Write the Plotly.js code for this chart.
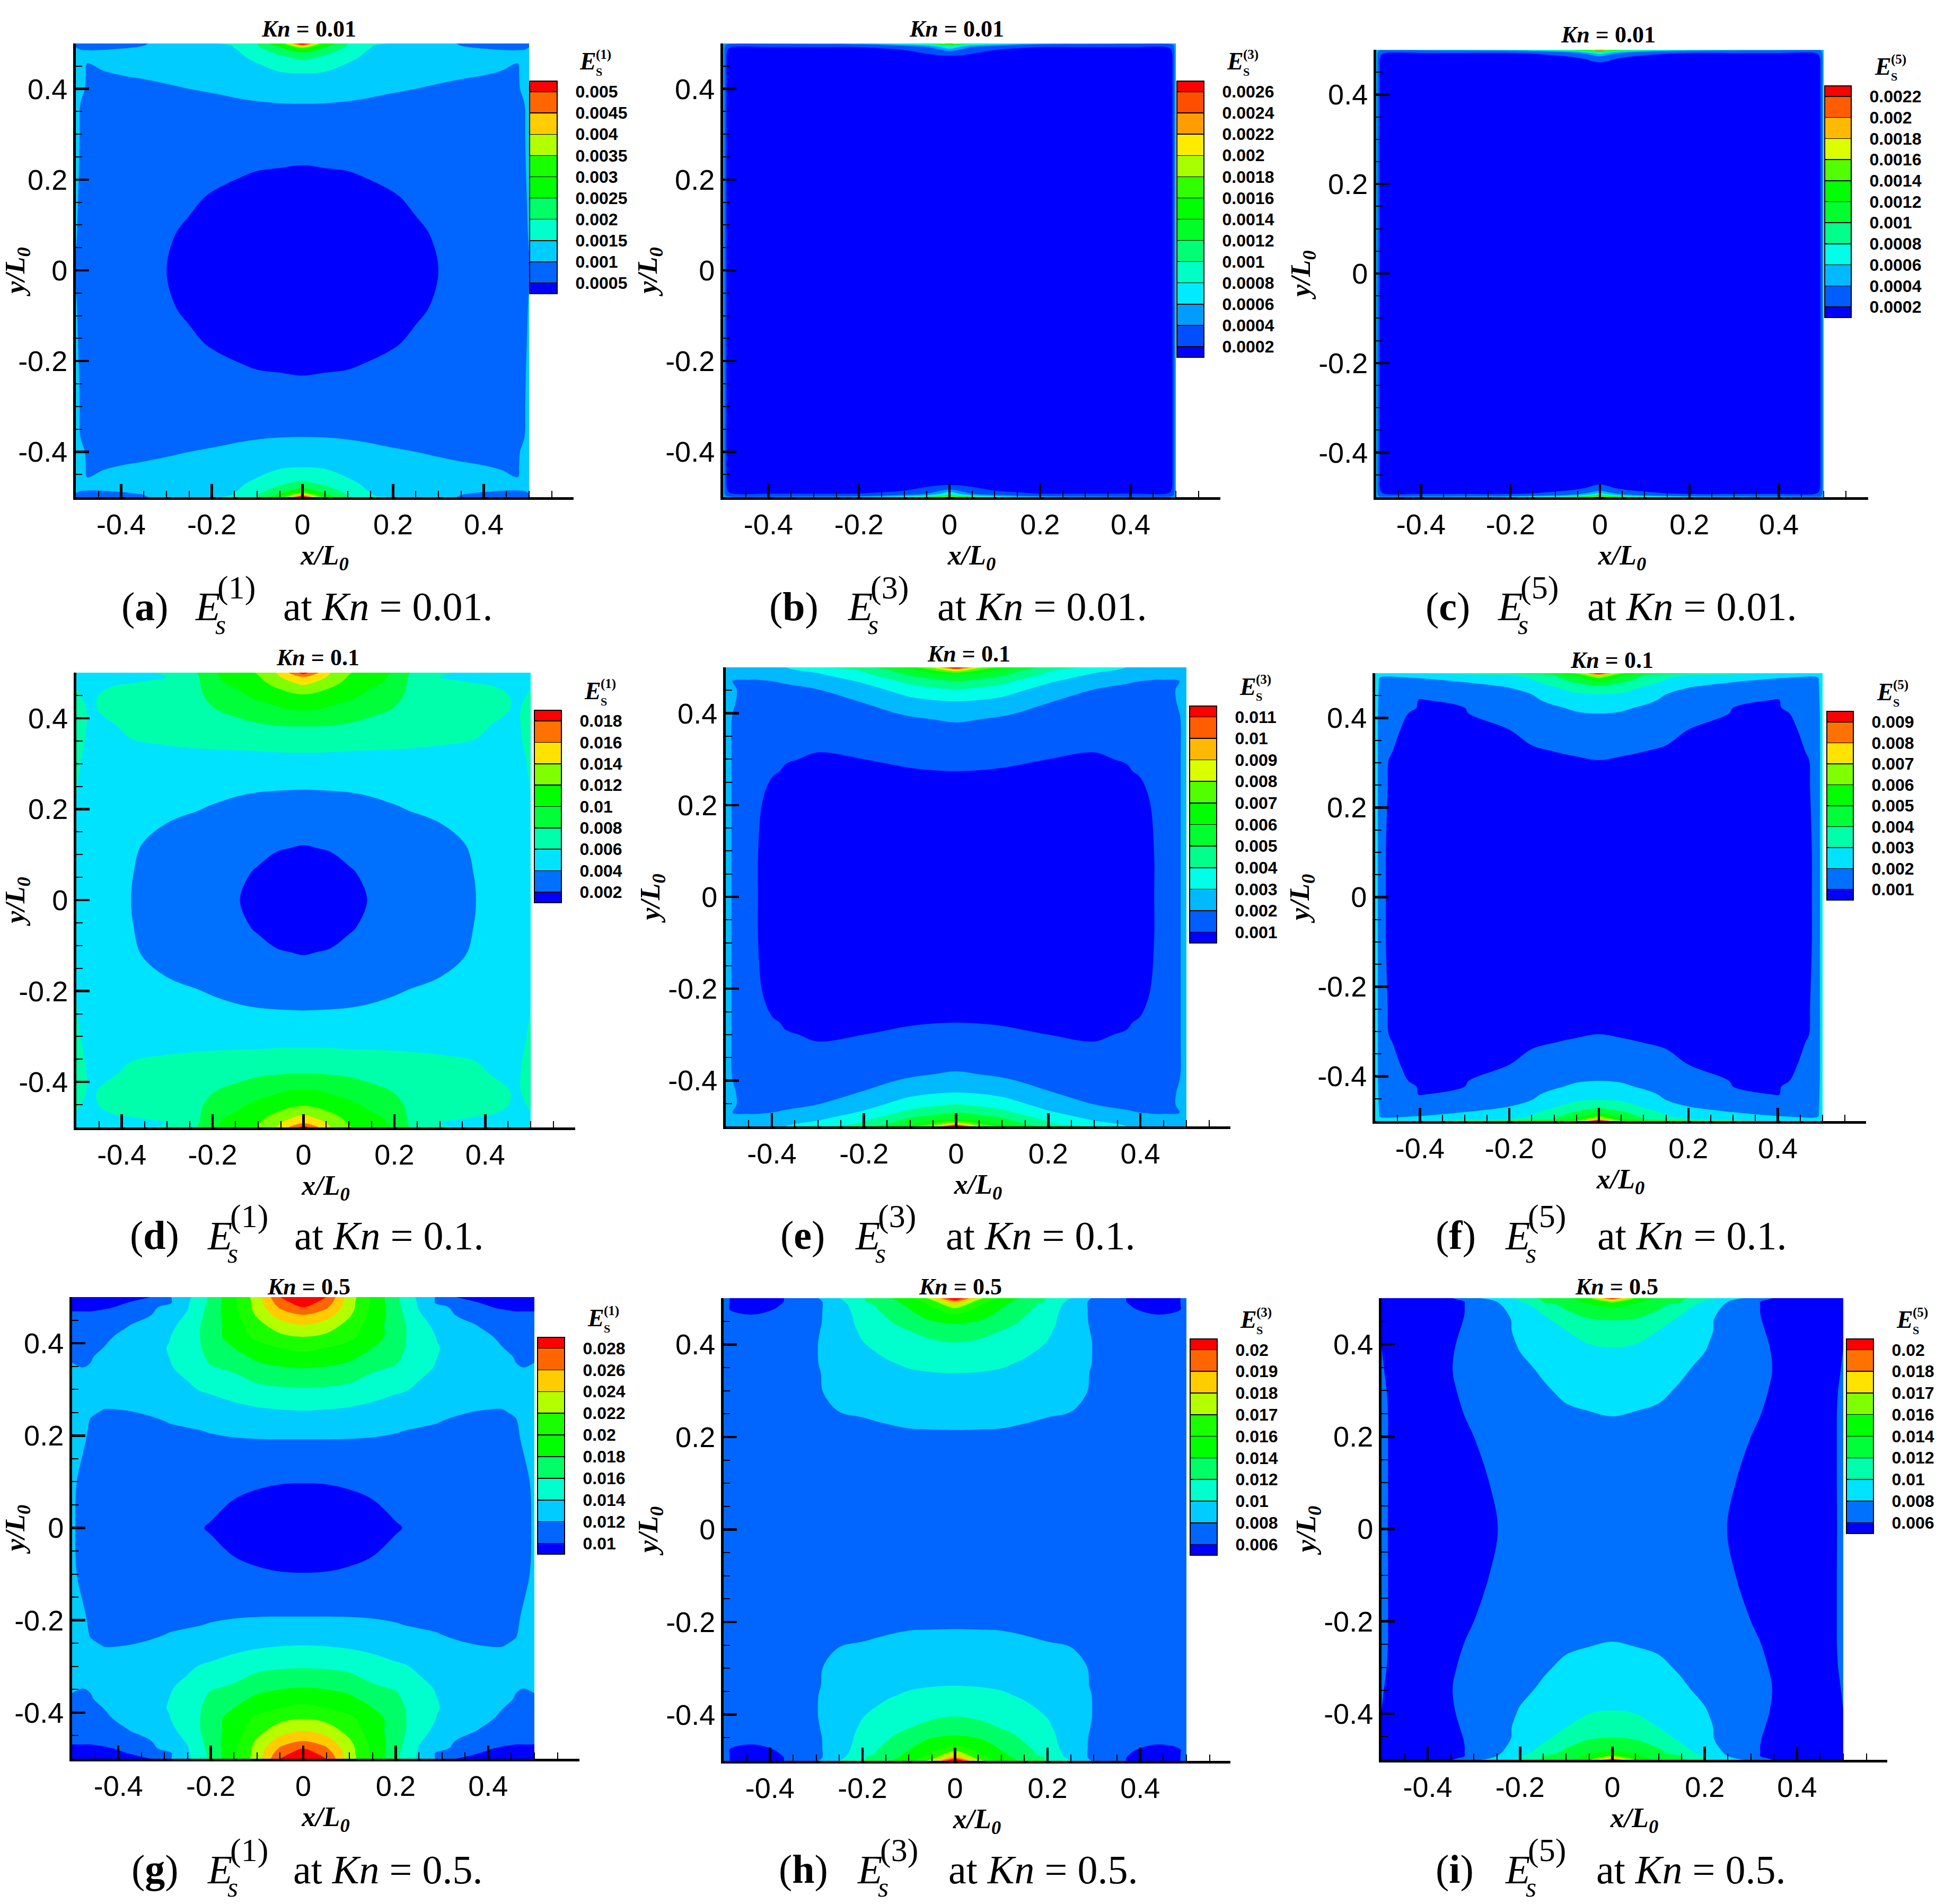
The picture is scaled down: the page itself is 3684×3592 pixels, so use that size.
<!DOCTYPE html>
<html><head><meta charset="utf-8">
<script src="https://cdn.plot.ly/plotly-3.0.1.min.js"></script>
<style>html,body{margin:0;padding:0;background:#fff}</style></head>
<body><div id="chart" style="width:3684px;height:3592px"></div>
<script>
// Quadrant readings (x>=0, y>=0): the fields are symmetric about both axes in the picture.
// Level labels as printed on each legend (ascending).
const labelsA=['0.0005','0.001','0.0015','0.002','0.0025','0.003','0.0035','0.004','0.0045','0.005'];
const labelsB=['0.0002','0.0004','0.0006','0.0008','0.001','0.0012','0.0014','0.0016','0.0018','0.002','0.0022','0.0024','0.0026'];
const labelsC=['0.0002','0.0004','0.0006','0.0008','0.001','0.0012','0.0014','0.0016','0.0018','0.002','0.0022'];
const labelsD=['0.002','0.004','0.006','0.008','0.01','0.012','0.014','0.016','0.018'];
const labelsE=['0.001','0.002','0.003','0.004','0.005','0.006','0.007','0.008','0.009','0.01','0.011'];
const labelsF=['0.001','0.002','0.003','0.004','0.005','0.006','0.007','0.008','0.009'];
const labelsG=['0.01','0.012','0.014','0.016','0.018','0.02','0.022','0.024','0.026','0.028'];
const labelsH=['0.006','0.008','0.01','0.012','0.014','0.016','0.017','0.018','0.019','0.02'];
const labelsI=['0.006','0.008','0.01','0.012','0.014','0.016','0.017','0.018','0.02'];

// Panel (a) E_s^(1), Kn=0.01, z in 1e-5
const xA=[0,.05,.1,.14,.19,.25,.3,.35,.4,.44,.475,.49,.5];
const yA=[0,.08,.16,.232,.3,.367,.4,.43,.456,.47,.48,.49,.495,.5];
const zA=[
[30,31,32,34,38,44,50,56,65,75,88,95,99],
[32,33,35,37,41,47,52,58,67,77,90,97,101],
[39,40,41,44,47.5,53,58,64,72,82,94,98,102],
[50,51,52,54,57,62,67,72,78,85,93,98.5,104],
[68,69,70,72,74,78,81,84,87,91,95,99,106],
[100,99,97,95.5,94,92.5,92,92,93,95,97,100,108],
[125,123,114,108,103,100,97,95,95,95.5,98,104,115],
[144,140,128,118,112,108,105,102,100,98,98,108,118],
[184,174,149,130,122,116,112,108,106,103,100,110,118],
[214,192,165,141,128,121,116,111,108,106,108,113,118],
[250,210,180,148,130,122,115,110,106,104,105,107,110],
[335,240,190,155,132,118,108,102,99,97,95,96,101],
[430,265,195,157,135,112,104,100,95,92,90,92,97],
[560,290,200,165,150,112,104,99,92,88,85,87,92]];

// Panel (b) E_s^(3), Kn=0.01, z in 1e-5
const xB=[0,.02,.05,.1,.15,.2,.3,.4,.48,.4925,.5];
const yB=[0,.3,.44,.465,.473,.483,.488,.492,.495,.497,.499,.5];
const zB=[
[8,8,8,8,8,9,9,10,12,20,55],
[9,9,9,9,9,9,9,10,12,20,55],
[13,13,12,11,10,10,10,11,13,20,55],
[18,17,15,13,11,10,10,11,13,20,55],
[20,19,17,14,12,11,11,12,14,20,55],
[40,33,24,18,15,13,12,13,15,21,55],
[60,45,30,22,18,15,14,14,16,22,55],
[80,60,40,30,25,20,20,20,20,24,55],
[100,80,55,42,35,28,26,26,26,30,58],
[135,105,75,55,42,34,32,32,34,38,60],
[200,150,110,80,62,46,42,40,40,45,62],
[300,200,150,130,100,85,70,60,50,50,62]];

// Panel (c) E_s^(5), Kn=0.01, z in 1e-5
const xC=[0,.02,.05,.1,.15,.2,.3,.4,.48,.4925,.5];
const yC=[0,.3,.44,.47,.478,.485,.49,.493,.496,.498,.5];
const zC=[
[7,7,7,7,7,8,8,9,11,20,50],
[8,8,8,8,8,8,8,9,11,20,50],
[12,12,11,10,9,9,9,10,12,20,50],
[19,18,15,12,11,10,10,11,13,20,50],
[23,21,17,14,12,11,11,12,14,20,50],
[38,30,22,17,14,13,13,13,15,21,50],
[55,42,30,23,18,16,15,15,17,22,50],
[75,55,38,28,22,20,20,20,20,25,50],
[105,80,55,40,32,28,27,26,26,30,52],
[150,110,80,60,48,40,36,34,34,36,55],
[260,170,125,105,85,70,60,52,46,46,55]];

// Panel (d) E_s^(1), Kn=0.1, z in 1e-4
const xD=[0,.03,.06,.1,.14,.2,.23,.3,.38,.42,.46,.478,.49,.5];
const yD=[0,.06,.121,.17,.243,.3,.33,.38,.42,.45,.47,.48,.49,.5];
const zD=[
[14,14.5,15.5,17.5,20,25,28,33,40,45,50,53,55,57],
[15.5,16,17,19,21.5,26,29,34,40.5,45.5,50.5,53,55,57.5],
[20,20.5,21,23,25,29,31,35,42,46,50,53,55,58],
[26,26.5,27,29,31,35,37,40,45,48,51.5,54,56,59],
[40,40.2,40.5,41,42,44,45,47,50,52,54,55.5,57,60.5],
[52,52,52,52.5,53,54,54.5,55.5,56.5,57,57.5,58,59.5,64],
[62,62,61.5,60.5,60.2,59.8,59.5,58.5,58,57.5,57.5,58.5,61,66],
[79,79,78,76.5,74,70,68,66,62,59,56,60,63,68],
[102,101,97,92,86,79,72,70,67,63,59.5,60,62.5,66],
[118,115,110,105,97,88,76,72,67,64,59,59,60,63],
[137,130,122,112,103,93,78,70,63,60,57,56,56,59],
[147,139,128,115,106,96,79,65,58,56,54,53,53,55],
[158,150,135,118,108,97,80,60,55,53,51,50,50,52],
[190,162,140,122,110,98,81,63,54,52,50,49,49,50]];

// Panel (e) E_s^(3), Kn=0.1, z in 1e-4
const xE=[0,.05,.1,.2,.3,.37,.4,.42,.43,.45,.485,.49,.5];
const yE=[0,.09,.21,.26,.274,.3,.315,.38,.4,.426,.452,.47,.485,.495,.5];
const zE=[
[8,8,8,8,8.3,8.8,9.2,9.7,10,11.5,19.5,20.5,25],
[8.3,8.3,8.3,8.4,8.6,9,9.4,9.8,10,11.5,19.5,20.5,25],
[8.6,8.6,8.6,8.7,8.9,9.3,9.7,10,10.3,12,19.5,20.5,25],
[9.2,9.2,9.2,9.2,9.3,9.6,10,10.8,11.2,12.5,19.5,20.5,25],
[10,9.9,9.7,9.5,9.4,9.7,10.4,11.2,11.6,13,19.5,20.5,25],
[11.5,11.2,10.8,10,9.7,10.2,11.3,12,12.5,13.5,19.5,20.5,25],
[12.5,12.2,11.6,10.7,10,11,12,12.8,13.2,14,19.5,20.5,25],
[20,18.5,17,14.5,13.5,14,14.5,15,15.5,16,19.5,20.5,25],
[24.3,23,21.5,16.5,15,15.5,15.8,16,16.3,17,20,20.5,25],
[30,29,27,20.5,17,17.5,17.5,17.5,17.5,18,20.5,21,25],
[40,38,35,26,20,19,18.5,18.5,18.5,18.5,20.5,21,25],
[50,47,43,31.5,24,20.5,20,19.5,19,19,20,21,25],
[60,56,52,38,29,26,25,24,24,24,23,24,26],
[90,72,58,42,33,29,28,27,27,27,26,26,27],
[125,82,65,47,38,30,29,28,28,28,27,27,27]];

// Panel (f) E_s^(5), Kn=0.1, z in 1e-4
const xF=[0,.05,.1,.15,.2,.3,.4,.47,.476,.49,.5];
const yF=[0,.1,.246,.306,.325,.374,.41,.423,.44,.453,.47,.48,.49,.495,.5];
const zF=[
[6.5,6.5,6.5,6.6,6.7,7,7.8,9.6,10,16,26],
[6.7,6.7,6.7,6.8,6.9,7.2,8,9.7,10,16,26],
[8,8,8,8,8,8.2,8.8,9.9,10.2,16,26],
[10,9.7,9.2,8.9,8.7,8.7,9.1,10,10.5,16,26],
[10.8,10.4,10,9.4,9,8.9,9.3,10.1,10.6,16,26],
[15,14,12.5,11.5,10,9.3,9.5,10.3,10.8,16,26],
[20,19,16.5,14,12,9.8,9.7,10.5,11.5,16.5,26],
[24,22,18.5,15,13,10,9.9,10.8,12,17,26],
[28,27,23,18,15.5,11,9.8,12,13,17.5,26],
[30,29,25.5,20,17,13,11,13,14,18,26],
[39,35,30,25,20.5,17,14,15,15.5,18.5,26],
[47,41,35,28,24,20,16,16.5,17,19,26],
[62,47,38,31,26,24,20.5,19,19,20,26],
[72,52,40,32,30,26,23,21,21,21,26],
[100,62,53,47,43,35,28,26,26,26,27]];

// Panel (g) E_s^(1), Kn=0.5, z in 1e-4
const xG=[0,.05,.1,.15,.2,.22,.25,.29,.33,.38,.43,.46,.476,.493,.5];
const yG=[0,.097,.192,.23,.254,.304,.346,.37,.39,.414,.44,.46,.478,.488,.5];
const zG=[
[92,92.5,94,96.5,99.3,100.3,102,104,106,109,112,114.5,116,120,125],
[100,100.2,101,102,104,105,106.5,108,109.5,112,114,116,117.5,120.5,125],
[120,120,119.8,119,118.5,118,118,118,118,118,118,118.5,121,124,127],
[132,131,130,128,123,122,121,120.2,119,118,118,119.5,122,126,128],
[140,139,137,134,128,126,124,122.5,121,120,119.7,121,124,127,129],
[160,159,156,150,145,143,137,130,127,125,124,124.5,126,128,130],
[180,178,174,163,158,152,146,138,131,128,125,121,120.3,121,122],
[192,190,184,173,165,157,150,140,133,128,124,119,116,118,118],
[206,200,192,180,170,160,151,141,134,127,120.5,115,112,113,113],
[220,215,205,188,172,161,151,139,131,125,117,112,110,109,109],
[240,232,213,190,170,161,147,135,127,119,113,109,107,106,106],
[258,248,222,193,170,158,142,132,120,114,103,102,102,102,102],
[280,263,228,195,168,155,139,126,116,101.5,99,98,98,98,98],
[290,272,228,196,166,153,138,117,104,100,97,96,96,96,96],
[298,280,230,197,165,152,136,118,100,96,94,93,93,93,93]];

// Panel (h) E_s^(3), Kn=0.5, z in 1e-4
const xH=[0,.05,.1,.15,.2,.25,.285,.295,.32,.37,.44,.487,.5];
const yH=[0,.1,.215,.256,.3,.338,.358,.404,.43,.445,.46,.475,.485,.493,.5];
const zH=[
[66,66,66,66,66,66,66,66,66,66,66,66,67],
[67,67,67,67,67,67,67,67,67,67,67,67,68],
[80,79.8,79.5,78,76,74,72,71,70,69,68,68,68],
[86.7,86,85.5,84,82,80.3,77,75,72,70,68,68,68],
[93.5,93,92,90,87,84,80.4,77,73,70,68,68,68],
[100,99.5,98,95,91,86,81.5,78.5,74,70,67,67,67],
[105,104,102,98,93,87,82,80,74,69,66,66,66],
[120,117,111,106,99.5,89,82.5,80.3,73,68,65,65,65],
[132,128,120,112,103,90,82,79,71,65,63,63,64],
[140,136,127,116,105,91,81.5,77,70,64,62,63,64],
[153,146,133,120,106,92,81,76,68,62,60.8,62,64],
[166,155,139,126,108,93,81,75,67,61,58,60,64],
[178,161,143,130,110,94,80.5,74,66,60.5,56,59.9,63],
[190,166,146,133,118,95,81,76,66,60,55,60,63],
[215,175,150,137,118,100,84,80,70,60,55,60,63]];

// Panel (i) E_s^(5), Kn=0.5, z in 1e-4
const xI=[0,.05,.1,.15,.2,.25,.3,.32,.346,.4,.486,.5];
const yI=[0,.1,.2,.244,.3,.344,.393,.43,.452,.47,.485,.492,.497,.5];
const zI=[
[70,69,67,65,62.5,59.9,57,56,55.5,55,59.9,63],
[72,71,69,67,64,61,58,57,56,55,60,63],
[77,76,74,72,68,63,60,58.5,57,56,60,63],
[80,79,77,74,70,65,61.5,60,58.5,56.5,60,63],
[87,84,83,78,73,67,62.5,61,59.5,57,59.5,62],
[92,90,87,82,76,69,63.5,62,60,57.5,58.5,61],
[100,98,93,87,81,71,64,62,59.5,57,57.5,60],
[112,108,100,93,84,73,64,61,58.5,56,56,59],
[120,118,107,96,85,72,62.5,60.3,58,55.5,55.5,58],
[131,127,118,102,88,74,61.5,60,57.5,55,55,57],
[145,137,125,110,93,77,62,60,58,55,54.5,56],
[162,145,130,120,98,80,65,60,58.5,55,54.5,56],
[180,150,132,122,102,85,70,62,59,55,54.5,56],
[215,155,135,125,110,92,75,65,60,55,54.5,56]];

const axisTickVals=[-0.4,-0.2,0,0.2,0.4];
const axisTickText=['-0.4','-0.2','0','0.2','0.4'];
const minorTicksX=[-0.45,-0.35,-0.3,-0.25,-0.15,-0.1,-0.05,0.05,0.1,0.15,0.25,0.3,0.35,0.45,0.5,0.55];
const minorTicksY=[-0.45,-0.35,-0.3,-0.25,-0.15,-0.1,-0.05,0.05,0.1,0.15,0.25,0.3,0.35,0.45,0.5];
const rainbow=[[0,'#0000ff'],[0.25,'#00ffff'],[0.5,'#00ff00'],[0.583,'#00ff00'],[0.75,'#ffff00'],[1,'#ff0000']];

const W=3684,H=3592,TH=W/1568;
// layout of each panel in page pixels
const panels=[
 {id:'a',x:xA,y:yA,z:zA,labels:labelsA,unit:1e-5,order:1,kn:'0.01',box:[143,998,82,938,1082],bar:[999,1051,153,554],titleC:[248,23],cap:[97,156,227,487]},
 {id:'b',x:xB,y:yB,z:zB,labels:labelsB,unit:1e-5,order:3,kn:'0.01',box:[1364,2218,82,938,2302],bar:[2220,2271,153,674],titleC:[768,23],cap:[617,680,752,487]},
 {id:'c',x:xC,y:yC,z:zC,labels:labelsC,unit:1e-5,order:5,kn:'0.01',box:[2596,3440,94,938,3524],bar:[3442,3492,162,599],titleC:[1291,28],cap:[1144,1202,1274,487]},
 {id:'d',x:xD,y:yD,z:zD,labels:labelsD,unit:1e-4,order:1,kn:'0.1',box:[144,1001,1269,2127,1085],bar:[1008,1059,1340,1703],titleC:[255,528],cap:[104,166,236,992]},
 {id:'e',x:xE,y:yE,z:zE,labels:labelsE,unit:1e-4,order:3,kn:'0.1',box:[1369,2238,1259,2125,2321],bar:[2244,2295,1332,1779],titleC:[778,525],cap:[626,686,759,992]},
 {id:'f',x:xF,y:yF,z:zF,labels:labelsF,unit:1e-4,order:5,kn:'0.1',box:[2594,3438,1270,2115,3520],bar:[3446,3496,1342,1698],titleC:[1294,530],cap:[1152,1208,1282,992]},
 {id:'g',x:xG,y:yG,z:zG,labels:labelsG,unit:1e-4,order:1,kn:'0.5',box:[136,1008,2447,3318,1093],bar:[1014,1065,2523,2932],titleC:[248,1033],cap:[105,166,235,1501]},
 {id:'h',x:xH,y:yH,z:zH,labels:labelsH,unit:1e-4,order:3,kn:'0.5',box:[1365,2238,2449,3322,2321],bar:[2245,2296,2526,2934],titleC:[771,1033],cap:[625,688,761,1501]},
 {id:'i',x:xI,y:yI,z:zI,labels:labelsI,unit:1e-4,order:5,kn:'0.5',box:[2606,3477,2449,3320,3560],bar:[3483,3534,2526,2893],titleC:[1298,1033],cap:[1152,1208,1281,1501]}
];

const mirror=a=>a.slice(1).reverse().map(v=>-v).concat(a);
const mirrorRow=r=>r.slice(1).reverse().concat(r);
const px=v=>v/W, py=v=>1-v/H;
const SERIF='Liberation Serif', SANS='Liberation Sans';

// the legends have unevenly spaced levels, so contour in legend-level position
function toLevelPos(v,levels){
  let k=0;
  while(k<levels.length-2&&v>levels[k+1])k++;
  return k+(v-levels[k])/(levels[k+1]-levels[k]);
}

const data=[],annotations=[];
const layout={width:W,height:H,paper_bgcolor:'#fff',plot_bgcolor:'#fff',showlegend:false,
  margin:{l:0,r:0,t:0,b:0,pad:0,autoexpand:false},annotations};
function note(text,x,y,size,opts){
  annotations.push(Object.assign({text,xref:'paper',yref:'paper',x:px(x),y:py(y),xanchor:'center',yanchor:'middle',
    showarrow:false,borderpad:0,font:{family:SERIF,size,color:'#000'}},opts||{}));
}

panels.forEach((p,i)=>{
  const n=i+1,xn=n===1?'xaxis':'xaxis'+n,yn=n===1?'yaxis':'yaxis'+n;
  const [l,r,t,b,end]=p.box;
  const levels=p.labels.map(s=>parseFloat(s)/p.unit);
  const fullRows=p.z.slice(1).reverse().concat(p.z).map(mirrorRow);
  const tick=[0,1,2,3,4];
  data.push({type:'contour',x:mirror(p.x),y:mirror(p.y),
    z:fullRows.map(row=>row.map(v=>toLevelPos(v,levels))),
    xaxis:n===1?'x':'x'+n,yaxis:n===1?'y':'y'+n,
    autocontour:false,contours:{start:0,end:levels.length-1,size:1,coloring:'fill',showlines:false},
    line:{width:0,smoothing:1},colorscale:rainbow,hoverinfo:'skip',
    colorbar:{x:px(p.bar[0]),xanchor:'left',xpad:0,y:py(p.bar[2]),yanchor:'top',ypad:0,
      lenmode:'pixels',len:p.bar[3]-p.bar[2],thicknessmode:'pixels',thickness:p.bar[1]-p.bar[0],
      outlinewidth:2,outlinecolor:'#000',borderwidth:0,
      tickmode:'array',tickvals:levels.map((_,k)=>k),ticktext:p.labels.map(s=>'\u00a0\u00a0\u00a0'+s),
      ticks:'inside',ticklen:p.bar[1]-p.bar[0],tickwidth:1.5,tickcolor:'#000',
      tickfont:{family:SANS,size:32,color:'#000',weight:'bold'}}
  });
  const axisBase={showgrid:false,zeroline:false,showline:true,linecolor:'#000',linewidth:5,
    ticks:'inside',ticklen:25,tickwidth:4.5,tickcolor:'#000',
    tickmode:'array',tickvals:axisTickVals,ticktext:axisTickText,
    tickfont:{family:SANS,size:54,color:'#000'},automargin:false};
  layout[xn]=Object.assign({},axisBase,{domain:[l/W,end/W],range:[-0.5,0.5+(end-r)/(r-l)],anchor:n===1?'y':'y'+n,
    minor:{tickmode:'array',tickvals:minorTicksX,ticks:'inside',ticklen:12,tickwidth:2,tickcolor:'#000',showgrid:false},
    title:{text:'<b><i>x/L<sub>0</sub></i></b>',font:{family:SERIF,size:52,color:'#000'},standoff:0}});
  layout[yn]=Object.assign({},axisBase,{domain:[1-b/H,1-t/H],range:[-0.5,0.5],anchor:n===1?'x':'x'+n,
    minor:{tickmode:'array',tickvals:minorTicksY,ticks:'inside',ticklen:12,tickwidth:2,tickcolor:'#000',showgrid:false},
    title:{text:'<b><i>y/L<sub>0</sub></i></b>',font:{family:SERIF,size:52,color:'#000'},standoff:0}});
  // panel title
  note('<b><i>Kn</i> = '+p.kn+'</b>',p.titleC[0]*TH,p.titleC[1]*TH,44);
  // legend heading
  const [bl,,bt]=p.bar;
  note('<b><i>E</i></b>',bl+110,bt-37,46);
  note('<b>('+p.order+')</b>',bl+139,bt-50,25);
  note('<b>S</b>',bl+131,bt-17,22);
  // caption below the panel
  const [c0,c1,c2,cy]=p.cap.map(v=>v*TH);
  note('(<b>'+p.id+'</b>)',c0,cy,76,{xanchor:'left'});
  note('<i>E</i>',c1,cy,76,{xanchor:'left'});
  note('('+p.order+')',c1+34*TH,cy-36,62);
  note('<i>s</i>',c1+21*TH,cy+34,52);
  note('at <i>Kn</i> = '+p.kn+'.',c2,cy,76,{xanchor:'left'});
});
Plotly.newPlot('chart',data,layout,{staticPlot:true,displayModeBar:false});
</script></body></html>
